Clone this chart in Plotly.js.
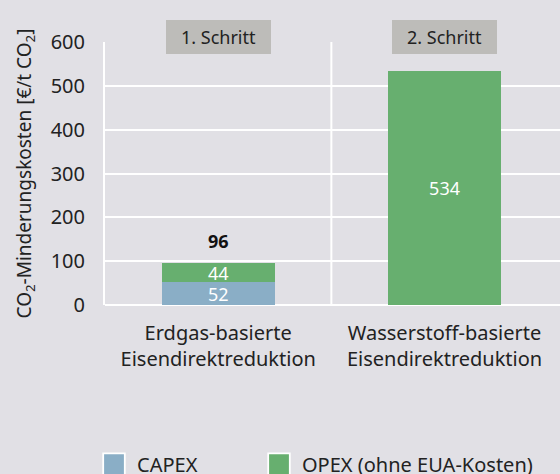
<!DOCTYPE html>
<html>
<head>
<meta charset="utf-8">
<script src="https://cdn.plot.ly/plotly-3.0.1.min.js"></script>
<style>
html,body{margin:0;padding:0;background:#e1e0e5;}
#chart{width:560px;height:474px;}
</style>
</head>
<body>
<div id="chart"></div>
<script>
const categories = ["Erdgas-basierte<br>Eisendirektreduktion", "Wasserstoff-basierte<br>Eisendirektreduktion"];
const capex = [52, 0];
const opex = [44, 534];
const steps = ["1. Schritt", "2. Schritt"];
const seriesNames = ["CAPEX", "OPEX (ohne EUA-Kosten)"];
const yTicks = [0, 100, 200, 300, 400, 500, 600];

const FONT = "Noto Sans, Open Sans, sans-serif";
const BG = "#e1e0e5";
const TXT = "#222222";

const labelText = arr => arr.map(v => v > 0 ? String(v) : "");

const traces = [
  {
    type: "bar", name: seriesNames[0], x: categories, y: capex,
    marker: {color: "#8aaec6", line: {width: 0}},
    text: labelText(capex), textposition: "inside", insidetextanchor: "middle",
    textangle: 0, constraintext: "none",
    textfont: {color: "#ffffff", size: 18, family: FONT},
    hoverinfo: "skip", width: 0.5, legend: "legend"
  },
  {
    type: "bar", name: seriesNames[1], x: categories, y: opex,
    marker: {color: "#67af6f", line: {width: 0}},
    text: labelText(opex), textposition: "inside", insidetextanchor: "middle",
    textangle: 0, constraintext: "none",
    textfont: {color: "#ffffff", size: 18, family: FONT},
    hoverinfo: "skip", width: 0.5, legend: "legend2"
  }
];

const annotations = [];
categories.forEach((c, i) => {
  annotations.push({
    x: c, xref: "x", y: 1, yref: "paper", yanchor: "middle", yshift: 5,
    text: steps[i], showarrow: false, bgcolor: "#bdbcb9",
    width: 101, height: 30, borderpad: 2, borderwidth: 0,
    font: {size: 18, color: TXT, family: FONT}
  });
  const parts = [capex[i], opex[i]].filter(v => v > 0);
  if (parts.length > 1) {
    const total = capex[i] + opex[i];
    annotations.push({
      x: c, xref: "x", y: total, yref: "y", yanchor: "bottom", yshift: 8,
      text: "<b>" + total + "</b>", showarrow: false,
      font: {size: 18, color: "#111111", family: FONT}
    });
  }
});

const legendBase = {
  orientation: "h", xref: "container", yref: "container",
  xanchor: "left", y: 0.062, yanchor: "top",
  font: {size: 20, color: TXT, family: FONT},
  bgcolor: "rgba(0,0,0,0)", borderwidth: 0
};

const layout = {
  width: 560, height: 474,
  paper_bgcolor: BG, plot_bgcolor: BG,
  margin: {l: 105, r: 0, t: 42, b: 169, pad: 0},
  barmode: "stack",
  font: {family: FONT, color: TXT, size: 20},
  xaxis: {
    type: "category", range: [-0.5, 1.51],
    showgrid: false, zeroline: false, showline: false, ticks: "",
    ticklabelstandoff: 14,
    tickfont: {size: 20, color: TXT, family: FONT},
    fixedrange: true
  },
  yaxis: {
    range: [0, 600], tickvals: yTicks, ticktext: yTicks.map(String),
    showgrid: true, gridcolor: "#ffffff", gridwidth: 2,
    zeroline: true, zerolinecolor: "#ffffff", zerolinewidth: 2,
    showline: true, linecolor: "#ffffff", linewidth: 2,
    ticks: "", ticklabelstandoff: 14,
    tickfont: {size: 20, color: TXT, family: FONT},
    title: {text: "CO<sub>2</sub>-Minderungskosten [€/t CO<sub>2</sub>]", font: {size: 19, color: TXT, family: FONT}, standoff: 14},
    fixedrange: true
  },
  shapes: [
    {type: "line", xref: "x", yref: "paper", x0: 0.5, x1: 0.5, y0: 0, y1: 1,
     line: {color: "#ffffff", width: 2}, layer: "below"}
  ],
  annotations: annotations,
  showlegend: true,
  legend: Object.assign({}, legendBase, {x: 97 / 560}),
  legend2: Object.assign({}, legendBase, {x: 262 / 560})
};

Plotly.newPlot("chart", traces, layout, {displayModeBar: false, staticPlot: true}).then(() => {
  document.querySelectorAll(".legendpoints path").forEach(p => {
    const t = p.getAttribute("transform") || "";
    p.setAttribute("transform", t + " translate(-3,0) scale(1.8)");
    p.style.stroke = "#ffffff";
    p.style.strokeWidth = "1px";
  });
});
</script>
</body>
</html>
